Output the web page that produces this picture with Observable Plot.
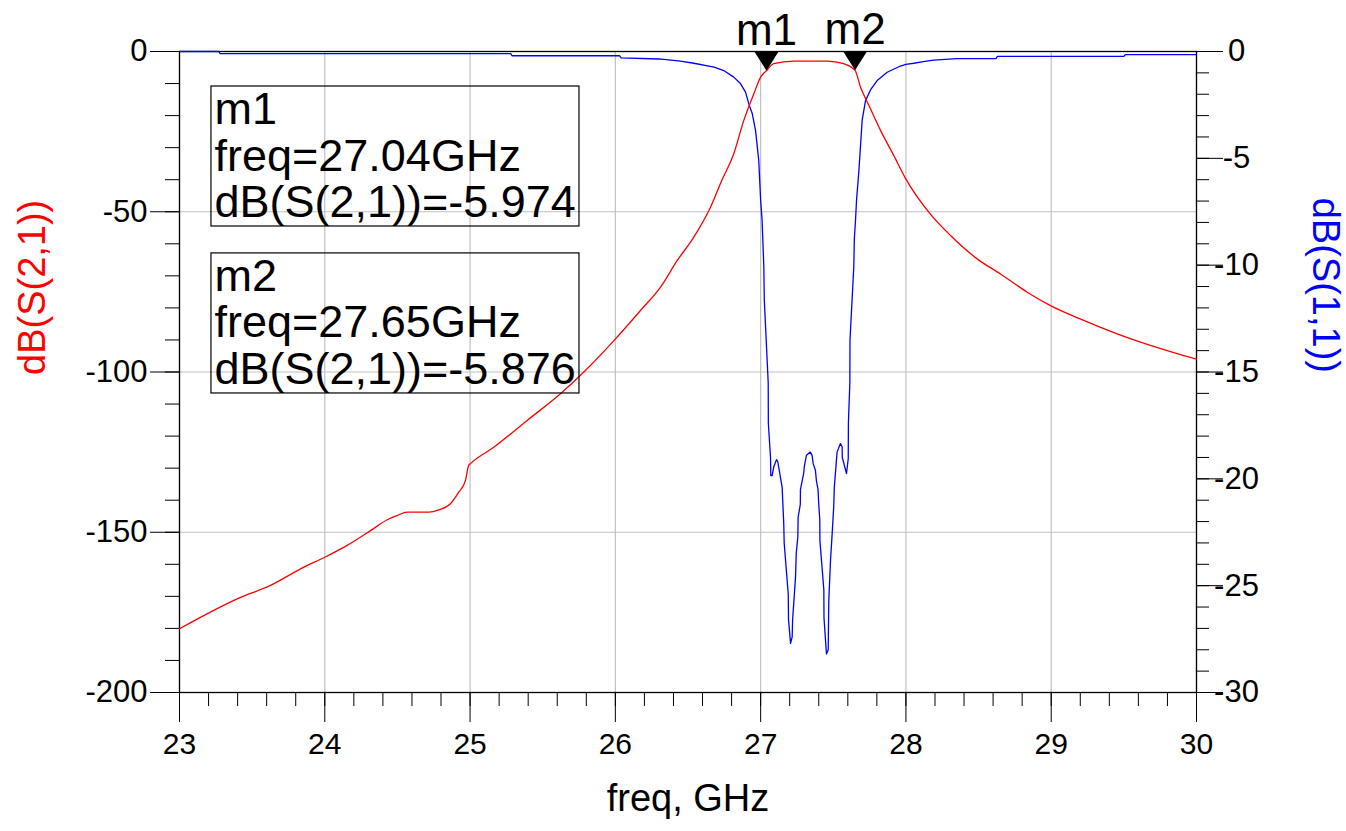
<!DOCTYPE html>
<html>
<head>
<meta charset="utf-8">
<script src="https://cdn.jsdelivr.net/npm/d3@7"></script>
<script src="https://cdn.jsdelivr.net/npm/@observablehq/plot@0.6"></script>
<style>
  html, body { margin: 0; padding: 0; background: #fff; }
  #chart svg { display: block; }
</style>
</head>
<body>
<div id="chart"></div>
<script>
// ---- data ----
const freqMajorTicks = [23, 24, 25, 26, 27, 28, 29, 30];
const s21MajorTicks = [0, -50, -100, -150, -200];
const s11MajorTicks = [0, -5, -10, -15, -20, -25, -30];

const s21Freq = [23.0, 23.167, 23.397, 23.626, 23.856, 24.0, 24.154, 24.315, 24.43, 24.498, 24.567, 24.716, 24.785, 24.865, 24.922, 24.968, 24.99, 25.003, 25.163, 25.393, 25.622, 25.783, 25.99, 26.173, 26.311, 26.426, 26.54, 26.655, 26.73, 26.815, 26.884, 26.953, 27.0, 27.04, 27.09, 27.228, 27.458, 27.572, 27.65, 27.687, 27.745, 27.825, 27.917, 28.0, 28.157, 28.307, 28.49, 28.651, 28.835, 28.995, 29.224, 29.454, 29.683, 30.0];
const s21dB = [-180.1, -176.0, -170.8, -166.6, -160.9, -157.8, -154.1, -149.5, -146.1, -144.8, -143.7, -143.7, -143.0, -141.1, -137.5, -133.9, -129.2, -128.6, -123.5, -115.1, -106.8, -100.0, -90.2, -80.8, -73.5, -65.2, -57.9, -48.6, -40.5, -31.9, -21.5, -13.2, -8.0, -5.974, -3.8, -3.0, -3.0, -3.8, -5.876, -11.1, -16.8, -24.6, -32.5, -39.8, -50.1, -57.4, -64.7, -69.4, -75.1, -79.3, -83.9, -88.1, -91.7, -96.0];

const s11Freq = [23.0, 23.27, 23.28, 25.28, 25.29, 26.03, 26.04, 26.3, 26.448, 26.54, 26.68, 26.746, 26.815, 26.861, 26.896, 26.918, 26.942, 26.965, 26.987, 27.0, 27.01, 27.022, 27.025, 27.052, 27.053, 27.068, 27.07, 27.079, 27.09, 27.109, 27.118, 27.148, 27.159, 27.162, 27.19, 27.192, 27.206, 27.217, 27.22, 27.24, 27.245, 27.256, 27.258, 27.273, 27.274, 27.296, 27.301, 27.315, 27.342, 27.354, 27.362, 27.377, 27.384, 27.395, 27.4, 27.407, 27.408, 27.435, 27.436, 27.453, 27.465, 27.469, 27.481, 27.492, 27.503, 27.507, 27.522, 27.526, 27.549, 27.561, 27.562, 27.591, 27.603, 27.604, 27.614, 27.615, 27.641, 27.645, 27.653, 27.66, 27.676, 27.699, 27.722, 27.756, 27.802, 27.871, 27.962, 28.0, 28.054, 28.12, 28.19, 28.35, 28.62, 28.63, 29.5, 29.51, 30.0];
const s11dB = [0, 0, -0.1, -0.1, -0.2, -0.2, -0.3, -0.35, -0.45, -0.55, -0.73, -0.89, -1.2, -1.5, -1.9, -2.44, -2.9, -3.7, -5.1, -6.97, -7.9, -10.1, -11.6, -15.5, -17.4, -19.0, -19.85, -19.85, -19.45, -19.1, -19.2, -20.4, -22.1, -23.0, -25.4, -26.6, -27.7, -27.4, -26.6, -24.6, -23.5, -22.7, -21.8, -21.2, -20.5, -19.75, -19.4, -18.9, -18.75, -18.9, -19.3, -19.6, -20.1, -20.5, -21.2, -21.9, -22.9, -25.2, -26.5, -28.2, -28.0, -25.7, -23.8, -22.6, -21.3, -20.4, -19.1, -18.75, -18.35, -18.5, -19.0, -19.75, -19.05, -17.4, -15.5, -13.5, -10.1, -8.75, -7.9, -6.97, -5.6, -3.2, -2.3, -1.8, -1.36, -0.97, -0.68, -0.6, -0.55, -0.47, -0.4, -0.33, -0.33, -0.23, -0.23, -0.15, -0.15];

const markerNames = ["m1", "m2"];
const markerFreq = [27.04, 27.65];
const markerdB = [-5.974, -5.876];

// readout box extents (data coordinates of the left axis)
const readoutFreq1 = [23.22, 23.22];
const readoutFreq2 = [25.753, 25.753];
const readoutTop = [-10.92, -63.0];
const readoutBottom = [-54.6, -106.7];

// ---- derived ----
const k = 200 / 30; // right-axis (S11) units to left-axis (S21) units
const s21 = s21Freq.map((f, i) => ({freq: f, dB: s21dB[i]}));
const s11 = s11Freq.map((f, i) => ({freq: f, dB: s11dB[i] * k}));
const markers = markerNames.map((n, i) => ({name: n, freq: markerFreq[i], dB: markerdB[i]}));
const readouts = markers.map((m, i) => ({
  x1: readoutFreq1[i], x2: readoutFreq2[i], y1: readoutTop[i], y2: readoutBottom[i],
  text: `${m.name}\nfreq=${m.freq.toFixed(2)}GHz\ndB(S(2,1))=${m.dB.toFixed(3)}`
}));

const freqMinor = d3.range(23, 30.0001, 0.2).map(d => +d.toFixed(2));
const s21Minor = d3.range(-200, 0.001, 10);
const s11Minor = d3.range(-30, 0.001, 1).map(d => d * k);

const downTriangle = {
  draw(ctx) {
    ctx.moveTo(0, 0);
    ctx.lineTo(-12, -19);
    ctx.lineTo(12, -19);
    ctx.closePath();
  }
};

const font = "'Liberation Sans', Arial, sans-serif";
const fmt = d => String(d);

const chart = Plot.plot({
  width: 1346,
  height: 831,
  marginLeft: 179,
  marginRight: 150,
  marginTop: 51,
  marginBottom: 139,
  style: {fontFamily: font, fontSize: "30px", background: "#fff", color: "#000"},
  x: {domain: [23, 30]},
  y: {domain: [-200, 0]},
  marks: [
    Plot.gridX(freqMajorTicks, {stroke: "#c0c0c0", strokeOpacity: 1, strokeWidth: 1.2}),
    Plot.gridY(s21MajorTicks, {stroke: "#c0c0c0", strokeOpacity: 1, strokeWidth: 1.2}),
    // bottom axis
    Plot.axisX(freqMajorTicks, {anchor: "bottom", tickSize: 30, tickPadding: 10, tickFormat: fmt, label: null, fontSize: 30}),
    Plot.axisX(freqMinor, {anchor: "bottom", tickSize: 14, tickFormat: () => "", label: null}),
    // left axis
    Plot.axisY(s21MajorTicks, {anchor: "left", tickSize: 29, tickPadding: 3, tickFormat: fmt, label: null, fontSize: 31}),
    Plot.axisY(s21Minor, {anchor: "left", tickSize: 14, tickFormat: () => "", label: null}),
    // right axis
    Plot.axisY(s11MajorTicks.map(d => d * k), {anchor: "right", tickSize: 26, tickPadding: 14, textAnchor: "middle",
      tickFormat: d => fmt(Math.round(d / k)), label: null, fontSize: 31}),
    Plot.axisY(s11Minor, {anchor: "right", tickSize: 12, tickFormat: () => "", label: null}),
    Plot.frame({stroke: "#000", strokeWidth: 1.3}),
    // curves
    Plot.line(s11, {x: "freq", y: "dB", stroke: "#0000ff", strokeWidth: 1.3}),
    Plot.line(s21, {x: "freq", y: "dB", stroke: "#ff0000", strokeWidth: 1.3, curve: "monotone-x"}),
    // readouts
    Plot.rect(readouts, {x1: "x1", x2: "x2", y1: "y1", y2: "y2", fill: "#fff", fillOpacity: 0, stroke: "#000", strokeWidth: 1.2}),
    Plot.text(readouts, {x: "x1", y: "y1", text: "text", textAnchor: "start", lineAnchor: "top", dx: 3, dy: 4,
      fontSize: 45, lineHeight: 1.04, fill: "#000"}),
    // markers
    Plot.dot(markers, {x: "freq", y: "dB", symbol: downTriangle, fill: "#000", stroke: null}),
    Plot.text(markers, {x: "freq", y: "dB", text: "name", dy: -40, fontSize: 44, fill: "#000"}),
    // axis titles
    Plot.text(["freq, GHz"], {frameAnchor: "bottom", dy: 118, fontSize: 38, fill: "#000"}),
    Plot.text(["dB(S(2,1))"], {frameAnchor: "left", dx: -147, dy: 3, rotate: -90, fontSize: 38, fill: "#ff0000"}),
    Plot.text(["dB(S(1,1))"], {frameAnchor: "right", dx: 129, dy: 1, rotate: 90, fontSize: 38, fill: "#0000ff"})
  ]
});
document.getElementById("chart").appendChild(chart);
</script>
</body>
</html>
